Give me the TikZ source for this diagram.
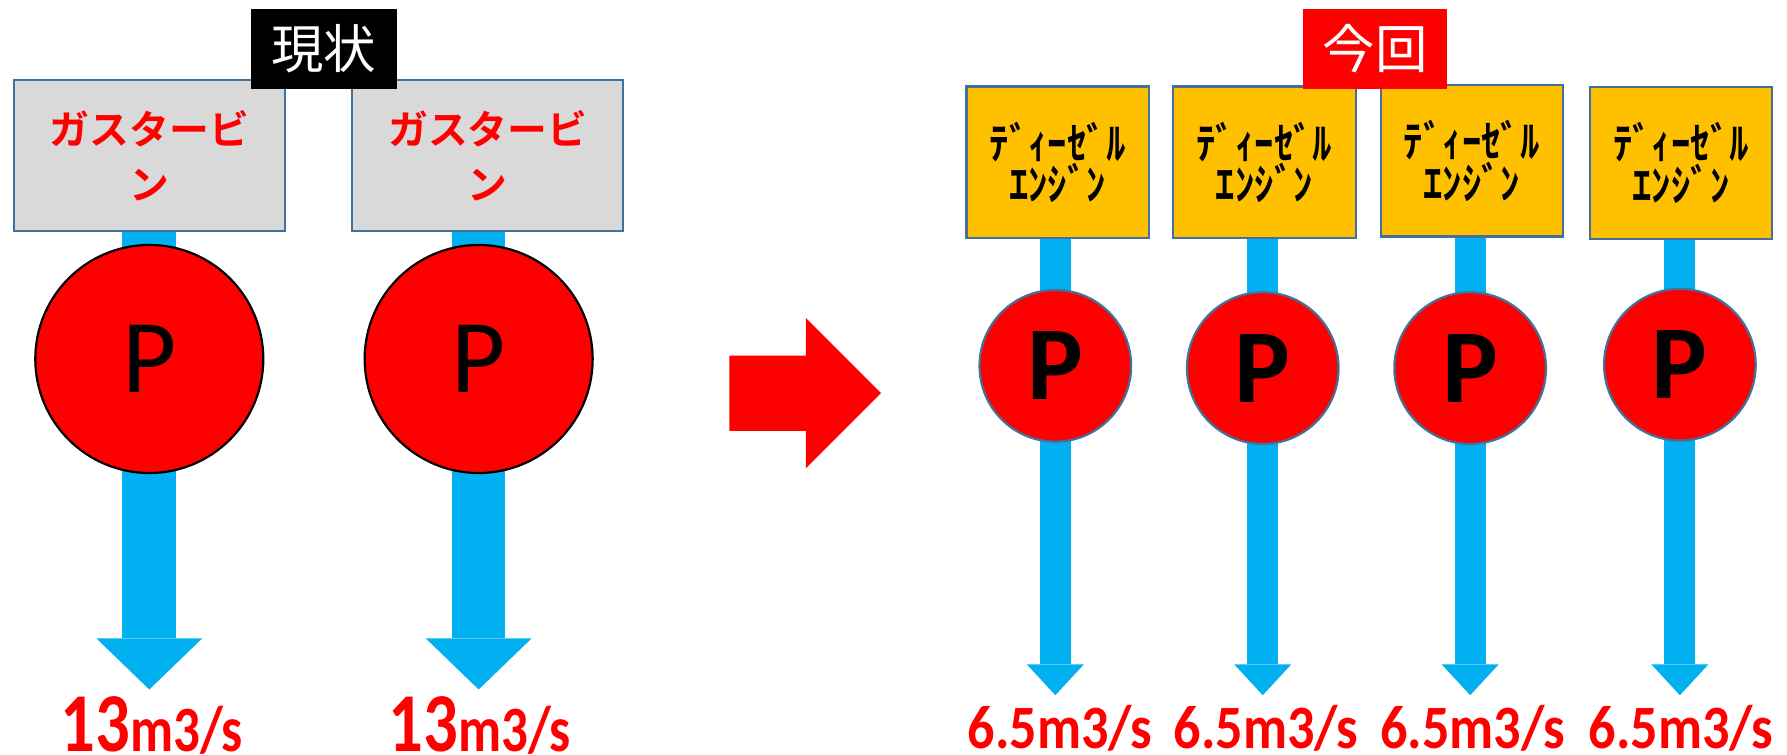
\documentclass[tikz,border=0pt]{standalone}
\usepackage{fontspec}
\setmainfont{Carlito}
\newfontfamily\jpfont{Noto Sans CJK JP}[BoldFont={Noto Sans CJK JP Bold}]
\usetikzlibrary{arrows.meta}
\usetikzlibrary{positioning}
\usetikzlibrary{backgrounds}
\definecolor{shaftblue}{HTML}{00B0F0}
\definecolor{boxline}{HTML}{41719C}
\definecolor{gtgray}{HTML}{D9D9D9}
\definecolor{engyellow}{HTML}{FFC000}
\newcommand{\engname}{\scalebox{1}[1.12]{ﾃﾞｨｰｾﾞﾙ}\\\scalebox{1}[1.12]{ｴﾝｼﾞﾝ}}
\newcommand{\bigflow}{\scalebox{0.86}[1.05]{{\fontsize{39.9}{40}\selectfont 13}{\fontsize{30.8}{31}\selectfont m3/s}}}
\newcommand{\smallflow}{\fontsize{30.8}{31}\selectfont\scalebox{0.88}[1]{6.5m3/s}}

\begin{document}
\begin{tikzpicture}[x=0.5698pt,y=-0.5698pt,
	gtbox/.style={draw=boxline, line width=1.1pt, fill=gtgray, minimum width=135.6pt, minimum height=75.8pt, inner sep=0pt, align=center, text=red, font=\jpfont\bfseries\fontsize{19.9}{27.4}\selectfont},
	engbox/.style={draw=boxline, line width=1.1pt, fill=engyellow, minimum width=91.2pt, minimum height=75.8pt, inner sep=0pt, align=center, font=\jpfont\bfseries\fontsize{19.4}{20.8}\selectfont},
	tagbox/.style={minimum width=72.9pt, minimum height=39.9pt, inner sep=0pt, text=white, font=\jpfont\fontsize{26.2}{26.2}\selectfont},
	bigpump/.style={circle, draw=black, line width=1.1pt, fill=red, minimum size=114pt, inner sep=0pt, font=\fontsize{52.4}{52.4}\selectfont},
	smallpump/.style={circle, draw=boxline, line width=1.1pt, fill=red, minimum size=75.8pt, inner sep=0pt, font=\bfseries\fontsize{52.4}{52.4}\selectfont},
	bigshaft/.style={draw=shaftblue, line width=26.8pt, -{Triangle[length=25.6pt, width=53pt, line width=0pt]}},
	smallshaft/.style={draw=shaftblue, line width=15.4pt, -{Triangle[length=15.4pt, width=28.5pt, line width=0pt]}},
	flow/.style={anchor=base, inner sep=0pt, text=red, font=\bfseries}]
	\useasboundingbox (0,0) rectangle (1568,662);

	% current state: gas turbines
	\node[gtbox] (gt1) at (131,136.5) {ガスタービ\\ン};
	\node[gtbox] (gt2) at (428,136.5) {ガスタービ\\ン};
	\node[tagbox, fill=black] (now) at (284,43) {現状};
	\node[bigpump] (p1) at (131,315) {P};
	\node[bigpump] (p2) at (420,315) {P};
	\coordinate (t1) at (131,605);
	\coordinate (t2) at (420,605);
	\node[flow] (q1) at (133,659) {\bigflow};
	\node[flow] (q2) at (421,659) {\bigflow};

	% change arrow
	\fill[red] (640,312) -- (707,312) -- (707,279) -- (773,345) -- (707,411) -- (707,378) -- (640,378) -- cycle;

	% this time: diesel engines
	\node[engbox] (de1) at (928,142.5) {\engname};
	\node[engbox] (de2) at (1109.5,142.5) {\engname};
	\node[engbox] (de3) at (1291.5,141) {\engname};
	\node[engbox] (de4) at (1475,143) {\engname};
	\node[tagbox, fill=red, minimum width=72.4pt] (new) at (1206.5,43) {今回};
	\node[smallpump] (p3) at (926,321) {P};
	\node[smallpump] (p4) at (1108,323) {P};
	\node[smallpump] (p5) at (1290,323) {P};
	\node[smallpump] (p6) at (1474,320) {P};
	\coordinate (t3) at (926,610);
	\coordinate (t4) at (1108,610);
	\coordinate (t5) at (1290,610);
	\coordinate (t6) at (1474,610);
	\node[flow] (q3) at (930,657) {\smallflow};
	\node[flow] (q4) at (1111,657) {\smallflow};
	\node[flow] (q5) at (1292,657) {\smallflow};
	\node[flow] (q6) at (1475,657) {\smallflow};

	% shafts behind pumps
	\begin{scope}[on background layer]
		\draw[bigshaft] (p1 |- gt1.south) -- (t1);
		\draw[bigshaft] (p2 |- gt2.south) -- (t2);
		\draw[smallshaft] (p3 |- de1.south) -- (t3);
		\draw[smallshaft] (p4 |- de2.south) -- (t4);
		\draw[smallshaft] (p5 |- de3.south) -- (t5);
		\draw[smallshaft] (p6 |- de4.south) -- (t6);
	\end{scope}
\end{tikzpicture}
\end{document}
